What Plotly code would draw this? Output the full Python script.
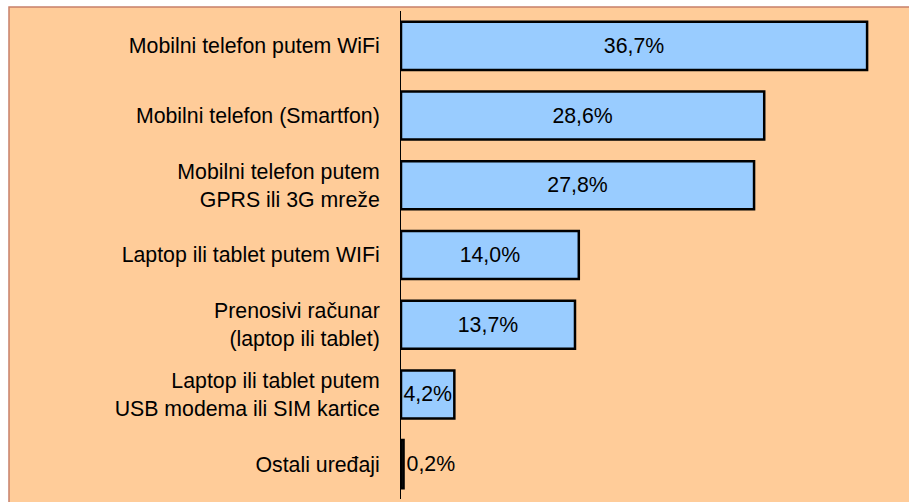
import plotly.graph_objects as go

categories = [
    "Mobilni telefon putem WiFi",
    "Mobilni telefon (Smartfon)",
    "Mobilni telefon putem<br>GPRS ili 3G mreže",
    "Laptop ili tablet putem WIFi",
    "Prenosivi računar<br>(laptop ili tablet)",
    "Laptop ili tablet putem<br>USB modema ili SIM kartice",
    "Ostali uređaji",
]
values = [36.7, 28.6, 27.8, 14.0, 13.7, 4.2, 0.2]
labels = ["36,7%", "28,6%", "27,8%", "14,0%", "13,7%", "4,2%", "0,2%"]
positions = ["inside"] * 6 + ["outside"]

FONT = "Liberation Sans, Arial, sans-serif"
FS = 21.3

fig = go.Figure(go.Bar(
    y=categories, x=values, orientation="h",
    text=labels, textposition=positions,
    insidetextanchor="middle", constraintext="none",
    textfont=dict(family=FONT, size=FS, color="black"),
    marker=dict(color="#99CCFF", line=dict(color="black", width=2.5)),
    width=0.69, cliponaxis=False,
))

fig.update_layout(
    width=909, height=502,
    paper_bgcolor="white", plot_bgcolor="rgba(0,0,0,0)",
    margin=dict(l=401, r=0, t=11, b=3),
    showlegend=False,
    uniformtext=dict(mode=False),
    font=dict(family=FONT, size=FS, color="black"),
    shapes=[dict(type="rect", xref="paper", yref="paper",
                 x0=-392/508, x1=1.2, y0=-0.2, y1=1+4/488,
                 fillcolor="#FFCC99", line=dict(color="#C8806A", width=1.5),
                 layer="below")],
)
fig.update_xaxes(range=[0, 40], visible=False, fixedrange=True)
fig.update_yaxes(autorange="reversed", showline=True, linecolor="black", linewidth=1,
                 ticks="", ticklabelstandoff=16, showgrid=False,
                 tickfont=dict(family=FONT, size=FS, color="black"))

fig.write_html("out.html")
